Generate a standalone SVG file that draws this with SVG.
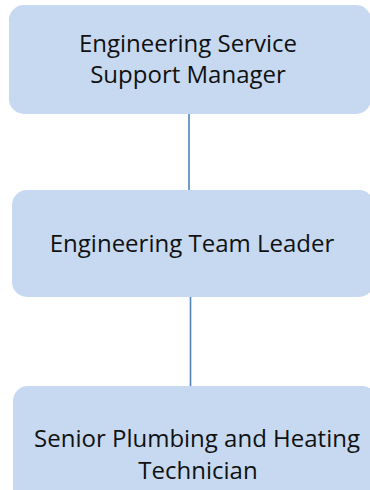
<svg xmlns="http://www.w3.org/2000/svg" width="370" height="490" viewBox="0 0 370 490">
<style>
.box{fill:#c6d9f1;stroke:none}
.lbl{font-family:"Open Sans","Noto Sans","Liberation Sans",sans-serif;font-size:24px;fill:#111;text-anchor:middle}
.conn{stroke:#4f81bd;stroke-width:1.6;fill:none}
</style>
<rect width="370" height="490" fill="#ffffff"/>
<g id="connectors">
<line class="conn" x1="189" y1="114" x2="189" y2="190"/>
<line class="conn" x1="190.5" y1="297" x2="190.5" y2="386"/>
</g>
<g id="node-manager">
<rect class="box" x="9" y="5" width="362" height="109" rx="15" ry="15"/>
<text class="lbl" x="188" y="52">Engineering Service</text>
<text class="lbl" x="188" y="83">Support Manager</text>
</g>
<g id="node-leader">
<rect class="box" x="12" y="190" width="362" height="107" rx="15" ry="15"/>
<text class="lbl" x="192" y="252">Engineering Team Leader</text>
</g>
<g id="node-technician">
<rect class="box" x="13" y="386" width="364" height="130" rx="15" ry="15"/>
<text class="lbl" x="197" y="447">Senior Plumbing and Heating</text>
<text class="lbl" x="198" y="479">Technician</text>
</g>
</svg>
